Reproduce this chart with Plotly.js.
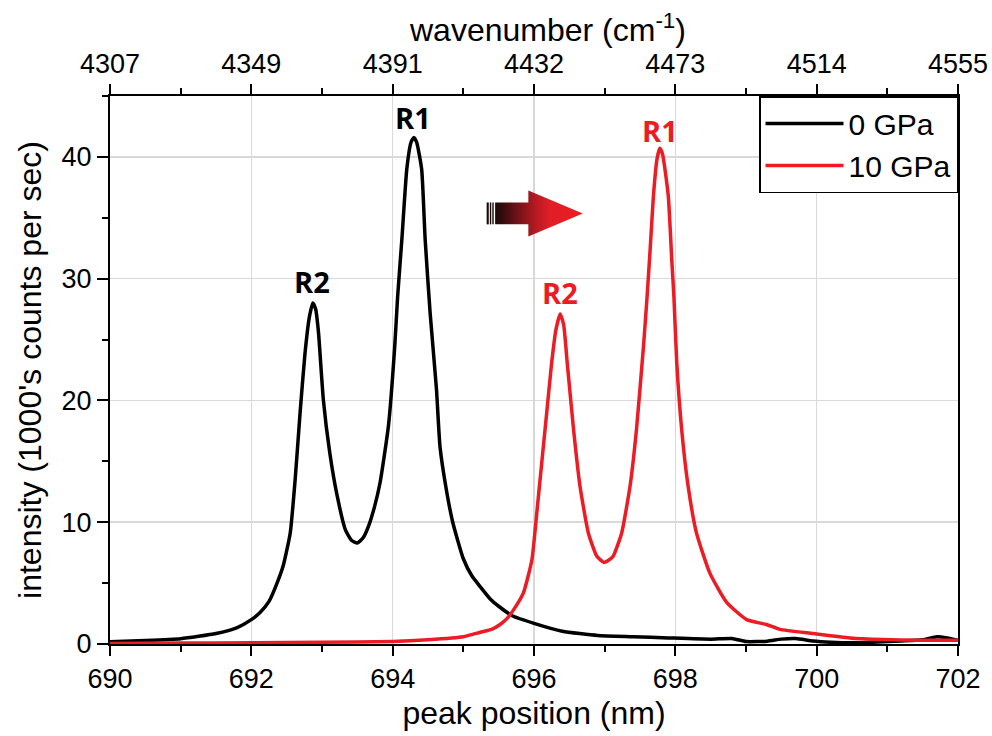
<!DOCTYPE html>
<html>
<head>
<meta charset="utf-8">
<script src="https://cdn.plot.ly/plotly-3.0.1.min.js"></script>
<style>html,body{margin:0;padding:0;background:#fff;}#chart{width:992px;height:736px;}</style>
</head>
<body>
<div id="chart"></div>
<script>
// ---- data ----
const seriesNames = ["0 GPa", "10 GPa"];

const wl0 = [690.0, 690.5, 691.0, 691.5, 691.8, 692.0, 692.12, 692.25, 692.35, 692.45, 692.55, 692.62, 692.69, 692.76, 692.82, 692.87, 692.91, 692.95, 693.02, 693.11, 693.21, 693.33, 693.42, 693.5, 693.58, 693.66, 693.74, 693.82, 693.94, 694.03, 694.07, 694.13, 694.2, 694.26, 694.3, 694.34, 694.41, 694.46, 694.53, 694.62, 694.67, 694.75, 694.85, 695.0, 695.12, 695.24, 695.38, 695.5, 695.7, 696.0, 696.4, 696.9, 697.4, 697.9, 698.5, 698.8, 699.0, 699.3, 699.5, 699.7, 699.95, 700.2, 700.5, 700.8, 701.2, 701.5, 701.7, 701.85, 702.0];
const int0 = [0.18, 0.28, 0.43, 0.86, 1.35, 2.0, 2.56, 3.5, 4.8, 6.4, 9.1, 13.5, 19.0, 23.9, 26.8, 28.0, 27.5, 25.6, 20.0, 15.7, 12.3, 9.4, 8.5, 8.3, 8.7, 9.7, 11.2, 13.2, 17.9, 24.5, 28.5, 33.2, 39.0, 41.2, 41.6, 41.2, 39.0, 33.2, 27.2, 20.9, 16.2, 13.0, 10.0, 7.0, 5.6, 4.7, 3.7, 3.1, 2.3, 1.7, 1.05, 0.7, 0.6, 0.5, 0.4, 0.45, 0.2, 0.23, 0.4, 0.45, 0.25, 0.15, 0.1, 0.15, 0.25, 0.35, 0.6, 0.5, 0.3];

const wl10 = [690.0, 691.0, 692.0, 693.0, 694.0, 694.5, 695.0, 695.24, 695.4, 695.52, 695.62, 695.71, 695.85, 695.97, 696.04, 696.11, 696.18, 696.25, 696.31, 696.37, 696.42, 696.47, 696.56, 696.65, 696.77, 696.89, 696.99, 697.06, 697.12, 697.24, 697.36, 697.45, 697.55, 697.6, 697.65, 697.69, 697.74, 697.78, 697.82, 697.9, 697.95, 697.98, 698.02, 698.09, 698.18, 698.3, 698.49, 698.73, 699.01, 699.29, 699.48, 699.95, 700.47, 700.94, 701.42, 702.0];
const int10 = [0.05, 0.08, 0.1, 0.15, 0.2, 0.35, 0.6, 0.97, 1.2, 1.6, 2.1, 2.8, 4.2, 6.9, 10.8, 14.9, 19.0, 23.1, 25.8, 27.1, 26.2, 23.1, 17.6, 13.0, 9.1, 7.2, 6.7, 6.9, 7.2, 9.1, 13.0, 17.6, 24.5, 28.5, 33.0, 36.8, 39.8, 40.7, 40.2, 36.8, 31.5, 28.5, 23.1, 17.6, 13.0, 9.1, 5.8, 3.4, 2.0, 1.6, 1.2, 0.86, 0.5, 0.37, 0.31, 0.31];

// axis ticks
const bottomTickVals = [690, 692, 694, 696, 698, 700, 702];
const topTickText = ["4307", "4349", "4391", "4432", "4473", "4514", "4555"];
const yTickVals = [0, 10, 20, 30, 40];

// peak labels
const peakLabels = ["R2", "R1", "R2", "R1"];
const peakLabelX = [692.86, 694.29, 696.37, 697.78];
const peakLabelY = [29.8, 43.2, 28.9, 42.2];
const peakLabelColor = ["#000000", "#000000", "#ed1c24", "#ed1c24"];

// decorative shift arrow (data coordinates)
const arrowX = [695.45, 695.92, 695.92, 696.69, 695.92, 695.92, 695.45, 695.45];
const arrowY = [36.26, 36.26, 37.25, 35.36, 33.47, 34.46, 34.46, 36.26];
const stripeX = [[695.33, 695.36], [695.375, 695.395], [695.41, 695.43]];

const FONT = "Liberation Sans, Arial, sans-serif";
const RED = "#ed1c24";

const traces = [
  {x: wl0, y: int0, name: seriesNames[0], type: "scatter", mode: "lines",
   line: {color: "#000000", width: 3.5, shape: "spline", smoothing: 0.5}, hoverinfo: "skip"},
  {x: wl10, y: int10, name: seriesNames[1], type: "scatter", mode: "lines",
   line: {color: RED, width: 3.5, shape: "spline", smoothing: 0.5}, hoverinfo: "skip"},
  {x: arrowX, y: arrowY, type: "scatter", mode: "lines", fill: "toself",
   line: {width: 0, color: "rgba(0,0,0,0)"},
   fillcolor: RED,
   fillgradient: {type: "horizontal", colorscale: [[0, "#1a0808"], [0.42, "#a81820"], [0.62, "#e01e26"], [1, RED]]},
   showlegend: false, hoverinfo: "skip"},
  {x: bottomTickVals, y: bottomTickVals.map(() => null), xaxis: "x2", type: "scatter",
   mode: "lines", showlegend: false, hoverinfo: "skip"}
];

const shapes = stripeX.map(s => ({
  type: "rect", xref: "x", yref: "y", x0: s[0], x1: s[1], y0: 34.46, y1: 36.26,
  fillcolor: "#1a0808", line: {width: 0}
}));

const annotations = peakLabels.map((t, i) => ({
  x: peakLabelX[i], y: peakLabelY[i], xref: "x", yref: "y", text: "<b>" + t + "</b>",
  showarrow: false, xanchor: "center", yanchor: "middle",
  font: {family: "Open Sans, sans-serif", size: 29, color: peakLabelColor[i]}
}));
// top axis title placed as annotation (slightly right of centre, as in the reference)
annotations.push({
  x: 0.516, y: 1, xref: "paper", yref: "paper", yshift: 68, text: "wavenumber (cm<sup>-1</sup>)",
  showarrow: false, xanchor: "center", yanchor: "middle",
  font: {family: FONT, size: 32, color: "#000"}
});

const layout = {
  width: 992, height: 736,
  margin: {l: 110, r: 34, t: 96, b: 92},
  paper_bgcolor: "#ffffff", plot_bgcolor: "#ffffff",
  font: {family: FONT, color: "#000"},
  showlegend: true,
  legend: {x: 1, y: 1, xanchor: "right", yanchor: "top", bgcolor: "#ffffff",
           bordercolor: "#000", borderwidth: 1.5, font: {family: FONT, size: 30, color: "#000"},
           itemwidth: 78, tracegroupgap: 0},
  xaxis: {range: [690, 702], tickvals: bottomTickVals, ticks: "outside", ticklen: 10, tickwidth: 2,
          tickcolor: "#000", showline: true, linecolor: "#000", linewidth: 2,
          showgrid: true, gridcolor: "#d9d9d9", gridwidth: 1.5, zeroline: false,
          minor: {dtick: 1, ticks: "outside", ticklen: 6, tickwidth: 2, tickcolor: "#000", showgrid: false},
          tickfont: {family: FONT, size: 27, color: "#000"},
          title: {text: "peak position (nm)", font: {family: FONT, size: 32, color: "#000"}, standoff: 8}},
  xaxis2: {overlaying: "x", side: "top", range: [690, 702], tickvals: bottomTickVals, ticktext: topTickText,
           ticks: "outside", ticklen: 10, tickwidth: 2, tickcolor: "#000", showline: true,
           linecolor: "#000", linewidth: 2, showgrid: false, zeroline: false,
           minor: {dtick: 1, ticks: "outside", ticklen: 6, tickwidth: 2, tickcolor: "#000", showgrid: false},
           tickfont: {family: FONT, size: 27, color: "#000"}},
  yaxis: {range: [0, 45], tickvals: yTickVals, ticks: "outside", ticklen: 11, tickwidth: 2, tickcolor: "#000",
          showline: true, linecolor: "#000", linewidth: 2, mirror: true,
          showgrid: true, gridcolor: "#d9d9d9", gridwidth: 1.5, zeroline: false,
          minor: {dtick: 5, ticks: "outside", ticklen: 6, tickwidth: 2, tickcolor: "#000", showgrid: false},
          tickfont: {family: FONT, size: 27, color: "#000"},
          title: {text: "intensity (1000's counts per sec)", font: {family: FONT, size: 32, color: "#000"}, standoff: 10}},
  shapes: shapes,
  annotations: annotations
};

Plotly.newPlot("chart", traces, layout, {displayModeBar: false, staticPlot: true});
</script>
</body>
</html>
